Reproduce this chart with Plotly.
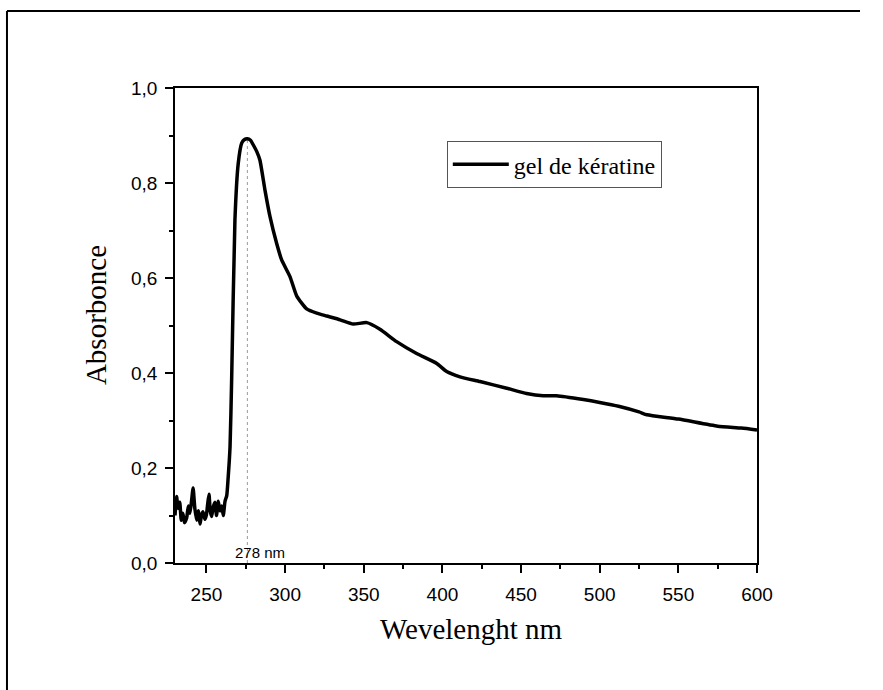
import plotly.graph_objects as go

# Wavelength (nm) and absorbance
wavelength = [230, 231, 232, 233, 234, 235, 236, 237.4, 238.5, 239.5, 240.5, 241.5, 242.6, 243.8,
              244.8, 245.9, 246.8, 247.8, 249, 250, 250.8, 251.6, 252.4, 253.3, 254.3, 255.4,
              256.4, 257.5, 258.6, 259.7, 260.7, 261.8, 262.9, 263.7, 265, 266, 268.1, 270.2,
              272.4, 274, 276, 278, 279.8, 282, 284, 287.2, 290.4, 294.6, 297.8, 303.1,
              307.4, 313.7, 320.1, 326.4, 335, 343.3, 351.9, 360.3, 370.9, 383.6, 396.4,
              402.7, 411.2, 423.9, 440.9, 453.5, 464.1, 472.6, 489.6, 500, 512, 525,
              530, 550, 575, 590, 600]
absorbance = [0.10, 0.14, 0.115, 0.128, 0.09, 0.105, 0.085, 0.095, 0.12, 0.105, 0.13, 0.158, 0.115,
              0.09, 0.11, 0.082, 0.1, 0.108, 0.092, 0.102, 0.125, 0.145, 0.11, 0.098, 0.118, 0.128,
              0.1, 0.13, 0.11, 0.12, 0.1, 0.13, 0.142, 0.175, 0.245, 0.385, 0.722, 0.841,
              0.884, 0.891, 0.893, 0.89, 0.88, 0.866, 0.848, 0.785, 0.729, 0.673, 0.638, 0.603,
              0.562, 0.535, 0.526, 0.52, 0.512, 0.503, 0.506, 0.492, 0.466, 0.441, 0.42,
              0.403, 0.392, 0.382, 0.368, 0.357, 0.352, 0.352, 0.344, 0.338, 0.33, 0.318,
              0.312, 0.303, 0.288, 0.284, 0.28]

peak_x = 276
peak_y = 0.892
peak_label = "278 nm"

x_ticks = [250, 300, 350, 400, 450, 500, 550, 600]
y_ticks = [0.0, 0.2, 0.4, 0.6, 0.8, 1.0]
y_ticktext = ["0,0", "0,2", "0,4", "0,6", "0,8", "1,0"]

series_name = "gel de kératine"
x_title = "Wevelenght nm"
y_title = "Absorbonce"

SERIF = "Liberation Serif, Times New Roman, serif"
SANS = "Liberation Sans, Arial, sans-serif"

fig = go.Figure()
fig.add_trace(go.Scatter(
    x=wavelength, y=absorbance, mode="lines", name=series_name,
    line=dict(color="black", width=3.5, shape="spline", smoothing=0.5),
))

fig.add_shape(type="line", xref="x", yref="y", x0=peak_x, x1=peak_x, y0=0, y1=peak_y,
              line=dict(color="#999999", width=1, dash="dot"), layer="below")
fig.add_annotation(x=peak_x, y=0, xref="x", yref="y", text=peak_label, showarrow=False,
                   yanchor="bottom", xanchor="left", xshift=-14, yshift=0,
                   font=dict(family=SANS, size=15, color="black"))

# Axis titles
fig.add_annotation(x=0.5086, y=-0.139, xref="paper", yref="paper", text=x_title,
                   showarrow=False, xanchor="center", yanchor="middle",
                   font=dict(family=SERIF, size=29, color="black"))
fig.add_annotation(x=-0.1357, y=0.522, xref="paper", yref="paper", text=y_title,
                   showarrow=False, xanchor="center", yanchor="middle", textangle=-90,
                   font=dict(family=SERIF, size=29, color="black"))

# Outer frame of the figure (left and top edges visible)
fig.add_shape(type="line", xref="paper", yref="paper", x0=-0.2887, x1=-0.2887, y0=-0.2674, y1=1.1621,
              line=dict(color="black", width=2))
fig.add_shape(type="line", xref="paper", yref="paper", x0=-0.2887, x1=1.177, y0=1.1621, y1=1.1621,
              line=dict(color="black", width=2))

axis_common = dict(
    showline=True, linecolor="black", linewidth=1.5, mirror=True,
    ticks="outside", ticklen=8, tickwidth=1.5, tickcolor="black",
    showgrid=False, zeroline=False,
    tickfont=dict(family=SANS, size=19, color="black"),
)

fig.update_xaxes(
    range=[230, 600], tickvals=x_ticks, ticklabelstandoff=5,
    minor=dict(ticks="outside", ticklen=4, tickwidth=1.5, tickcolor="black", dtick=25, tick0=0),
    **axis_common,
)
fig.update_yaxes(
    range=[0, 1.0], tickvals=y_ticks, ticktext=y_ticktext, ticklabelstandoff=4,
    minor=dict(ticks="outside", ticklen=4, tickwidth=1.5, tickcolor="black", dtick=0.1, tick0=0),
    **axis_common,
)

fig.update_layout(
    width=883, height=690,
    margin=dict(l=175, r=126, t=88, b=127),
    paper_bgcolor="white", plot_bgcolor="white",
    showlegend=True,
    legend=dict(x=0.467, y=0.888, xanchor="left", yanchor="top",
                bordercolor="#555555", borderwidth=1, bgcolor="white",
                itemwidth=56, tracegroupgap=0,
                font=dict(family=SERIF, size=24, color="black")),
)

fig.write_html("out.html")
